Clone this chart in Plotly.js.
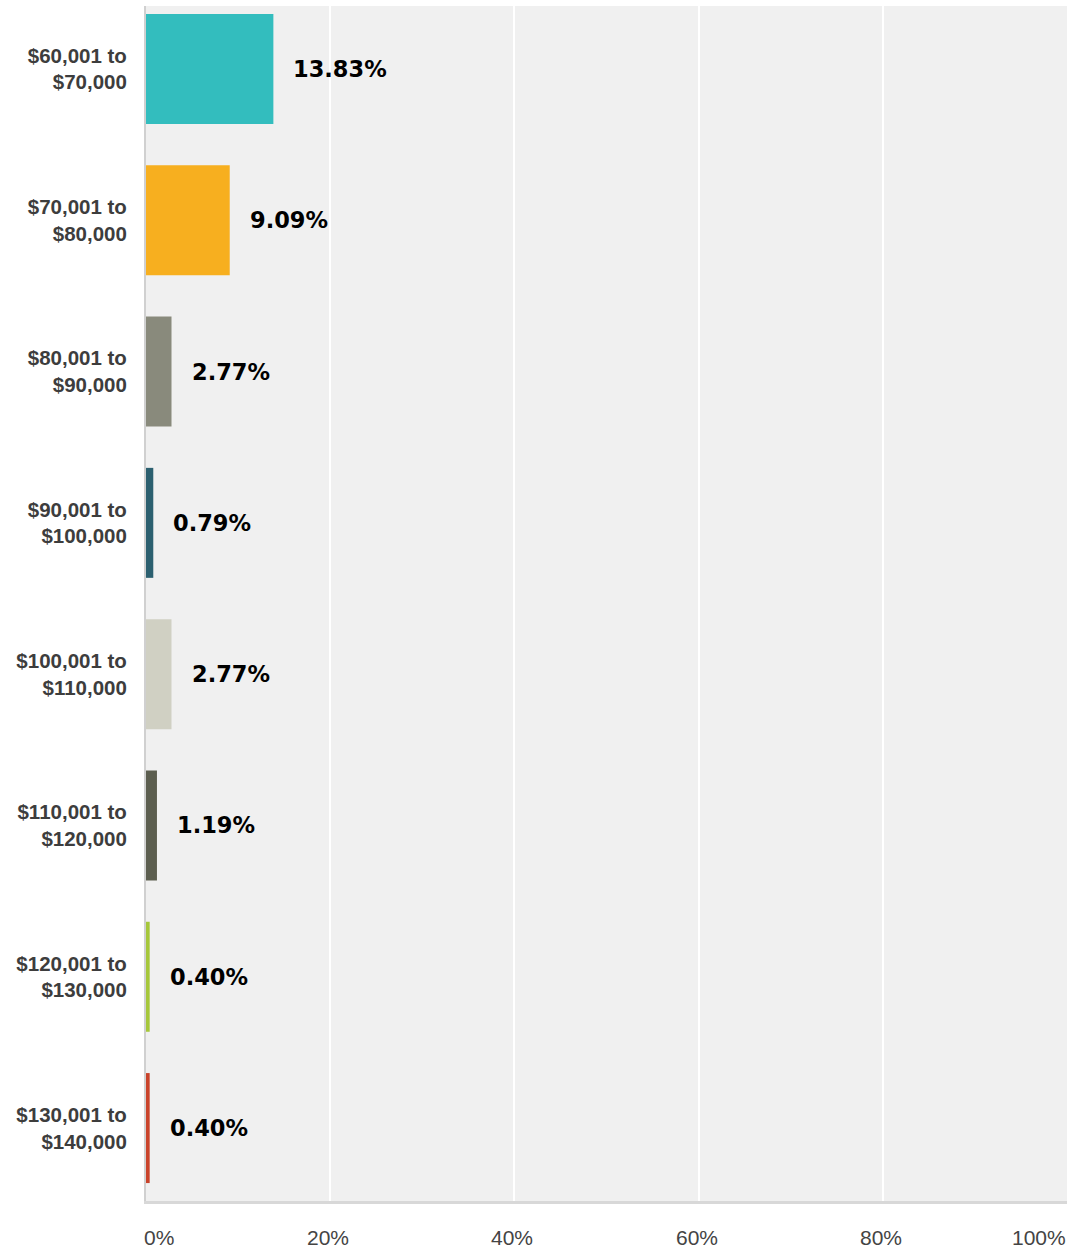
<!DOCTYPE html>
<html>
<head>
<meta charset="utf-8">
<script src="https://cdn.plot.ly/plotly-3.0.1.min.js"></script>
<style>html,body{margin:0;padding:0;background:#fff;}#chart{width:1074px;height:1253px;}</style>
</head>
<body>
<div id="chart"></div>
<script>
const categories = [
  "$60,001 to<br>$70,000",
  "$70,001 to<br>$80,000",
  "$80,001 to<br>$90,000",
  "$90,001 to<br>$100,000",
  "$100,001 to<br>$110,000",
  "$110,001 to<br>$120,000",
  "$120,001 to<br>$130,000",
  "$130,001 to<br>$140,000"
];
const values = [13.83, 9.09, 2.77, 0.79, 2.77, 1.19, 0.40, 0.40];
const valueLabels = ["13.83%", "9.09%", "2.77%", "0.79%", "2.77%", "1.19%", "0.40%", "0.40%"];
const barColors = ["#33BDBE", "#F7AF1F", "#898A7C", "#2C6070", "#D0D0C3", "#5C5E4F", "#A6C73A", "#C9432A"];
const xTickVals = [0, 20, 40, 60, 80, 100];
const xTickLabels = ["0%", "20%", "40%", "60%", "80%", "100%"];

const trace = {
  type: "bar",
  orientation: "h",
  x: values,
  y: categories,
  width: 0.727,
  marker: {color: barColors},
  hoverinfo: "none"
};

const annotations = [];
values.forEach((v, i) => {
  annotations.push({
    x: v, y: categories[i], xref: "x", yref: "y",
    text: valueLabels[i], showarrow: false,
    xanchor: "left", yanchor: "middle", xshift: 18,
    font: {family: "DejaVu Sans", size: 22.5, color: "#000", weight: "bold"}
  });
});
xTickVals.forEach((v, i) => {
  const last = i === xTickVals.length - 1;
  annotations.push({
    x: v, y: 0, xref: "x", yref: "paper",
    text: xTickLabels[i], showarrow: false,
    xanchor: i === 0 ? "left" : (last ? "right" : "center"),
    xshift: i === 0 ? -4 : (last ? 1 : -2),
    yanchor: "middle", yshift: -36,
    font: {family: "Liberation Sans, Arial, sans-serif", size: 21, color: "#444"}
  });
});

const layout = {
  width: 1074, height: 1253,
  margin: {l: 146, r: 7, t: 6, b: 52, pad: 0},
  paper_bgcolor: "#ffffff",
  plot_bgcolor: "#f0f0f0",
  showlegend: false,
  xaxis: {
    range: [0, 100],
    tickvals: xTickVals,
    showticklabels: false,
    showgrid: true, gridcolor: "#ffffff", gridwidth: 2,
    zeroline: false,
    showline: true, linecolor: "#d8d8d8", linewidth: 3,
    fixedrange: true
  },
  yaxis: {
    type: "category",
    range: [7.482, -0.416],
    showgrid: false, zeroline: false,
    showline: true, linecolor: "#d0d0d0", linewidth: 2,
    ticks: "outside", ticklen: 13, tickcolor: "rgba(0,0,0,0)",
    tickfont: {family: "Liberation Sans, Arial, sans-serif", size: 20.5, color: "#3d3d3d", weight: "bold"},
    fixedrange: true
  },
  annotations: annotations
};

Plotly.newPlot("chart", [trace], layout, {displayModeBar: false, staticPlot: true});
</script>
</body>
</html>
